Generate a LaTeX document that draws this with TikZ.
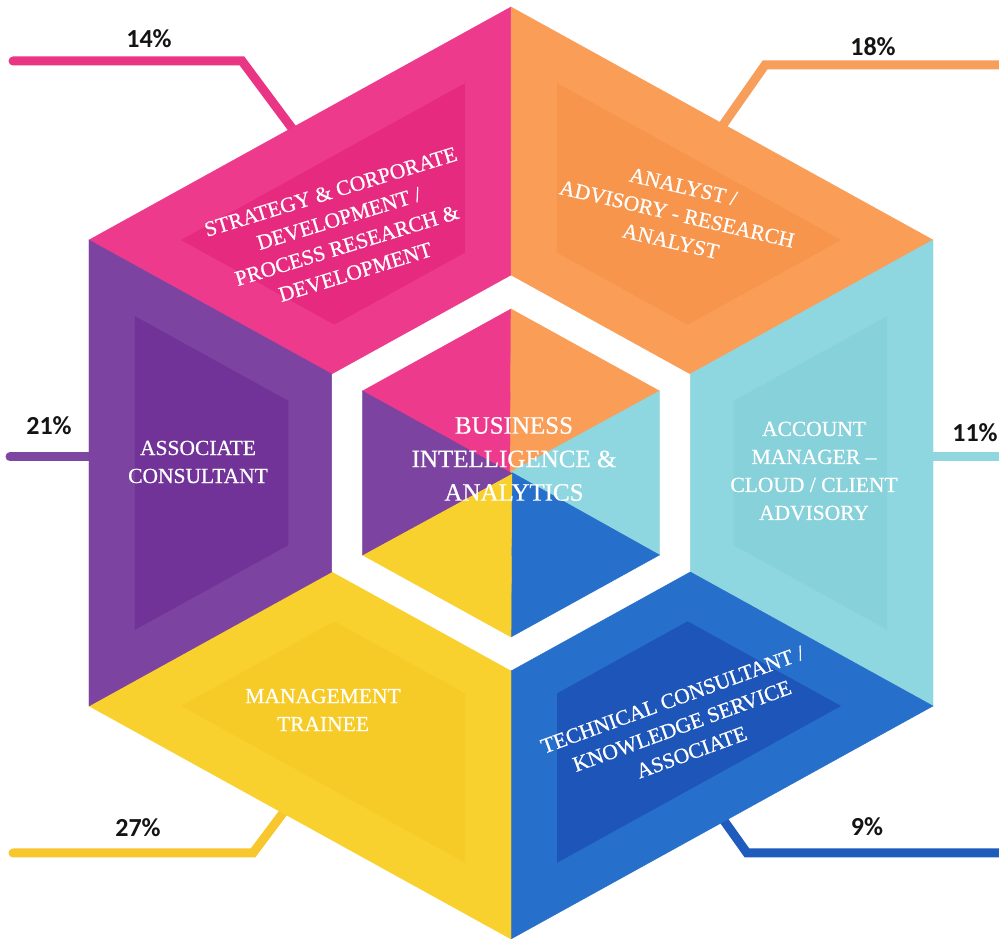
\documentclass[tikz,border=0pt]{standalone}
\usepackage{fontspec}
\setmainfont{Liberation Serif}
\newfontfamily\rolefont[FakeBold=0.6]{Liberation Serif}
\newfontfamily\pctfont{Carlito}
\definecolor{pinkA}{HTML}{EE3A8C}
\definecolor{pinkB}{HTML}{E62A7F}
\definecolor{orangeA}{HTML}{F99D57}
\definecolor{orangeB}{HTML}{F8954D}
\definecolor{cyanA}{HTML}{8FD7E0}
\definecolor{cyanB}{HTML}{87D1DA}
\definecolor{blueA}{HTML}{2670CB}
\definecolor{blueB}{HTML}{1E55B9}
\definecolor{yellowA}{HTML}{F9D12E}
\definecolor{yellowB}{HTML}{F6CB27}
\definecolor{purpleA}{HTML}{7C43A0}
\definecolor{purpleB}{HTML}{723398}
\definecolor{pinkL}{HTML}{EA3585}
\definecolor{orangeL}{HTML}{F79E5A}
\definecolor{purpleL}{HTML}{7D46A0}
\definecolor{cyanL}{HTML}{8FD6DF}
\definecolor{yellowL}{HTML}{F7C72D}
\definecolor{blueL}{HTML}{1E5BBC}
\begin{document}
\begin{tikzpicture}[x=1pt,y=1pt,
  role/.style={text=white, align=center, font=\rolefont\fontsize{21.5}{28}\selectfont, inner sep=0pt},
  hub/.style={text=white, align=center, font=\rolefont\fontsize{25}{33.5}\selectfont, inner sep=0pt},
  pct/.style={font=\pctfont\bfseries\fontsize{26}{30}\selectfont, text=black!92, inner sep=0pt},
  leader/.style={line width=9pt, line cap=round, line join=miter}]
\clip (0,0) rectangle (999,939);
\fill[white] (0,0) rectangle (999,939);

% leader lines (drawn first, hexagon covers their inner ends)
\coordinate (l14a) at (13,878); \coordinate (l14b) at (242,878); \coordinate (l14c) at (300,800);
\coordinate (l18a) at (1010,874); \coordinate (l18b) at (765,874); \coordinate (l18c) at (716,804);
\coordinate (l21a) at (10,482); \coordinate (l21b) at (110,482);
\coordinate (l11a) at (1010,482); \coordinate (l11b) at (910,482);
\coordinate (l27a) at (13,86); \coordinate (l27b) at (253,86); \coordinate (l27c) at (295,142);
\coordinate (l09a) at (1010,86); \coordinate (l09b) at (747,86); \coordinate (l09c) at (715,131);
\draw[leader, pinkL] (l14a) -- (l14b) -- (l14c);
\draw[leader, orangeL] (l18a) -- (l18b) -- (l18c);
\draw[leader, purpleL] (l21a) -- (l21b);
\draw[leader, cyanL] (l11a) -- (l11b);
\draw[leader, yellowL] (l27a) -- (l27b) -- (l27c);
\draw[leader, blueL] (l09a) -- (l09b) -- (l09c);

% hexagon
\begin{scope}[shift={(511,466)}, xscale=1.0457]
  \foreach \c/\d [count=\k from 0] in {pinkA/pinkB, orangeA/orangeB, cyanA/cyanB, blueA/blueB, yellowA/yellowB, purpleA/purpleB}{
    \filldraw[fill=\c, draw=\c, line width=0.4pt, rotate=-60*\k] (90:466) -- (150:466) -- (150:198) -- (90:198) -- cycle;
    \fill[\d, rotate=-60*\k] (-44,389.8) -- (-315.6,233.0) -- (-168.9,148.3) -- (-44,220.4) -- cycle;
    \filldraw[fill=\c, draw=\c, line width=0.4pt, rotate=-60*\k] (0,-1) -- (90:164) -- (150:164) -- cycle;
  }
\end{scope}

% labels
\node[role, rotate=17] (strat) at (343,707) {STRATEGY \& CORPORATE\\DEVELOPMENT /\\PROCESS RESEARCH \&\\DEVELOPMENT};
\node[role, rotate=-13] (anal) at (677,725) {ANALYST /\\ADVISORY - RESEARCH\\ANALYST};
\node[role] (assoc) at (198,477) {ASSOCIATE\\CONSULTANT};
\node[role] (acct) at (814,468) {ACCOUNT\\MANAGER –\\CLOUD / CLIENT\\ADVISORY};
\node[role] (mgmt) at (323,229) {MANAGEMENT\\TRAINEE};
\node[role, rotate=20] (tech) at (682,213) {TECHNICAL CONSULTANT /\\KNOWLEDGE SERVICE\\ASSOCIATE};
\node[hub] (bia) at (514,480) {BUSINESS\\INTELLIGENCE \&\\ANALYTICS};

% percentages
\node[pct] (p14) at (149,900) {14\%};
\node[pct] (p18) at (873,892) {18\%};
\node[pct] (p21) at (49,513) {21\%};
\node[pct] (p11) at (975,506) {11\%};
\node[pct] (p27) at (138,111) {27\%};
\node[pct] (p09) at (867,112) {9\%};
\end{tikzpicture}
\end{document}
